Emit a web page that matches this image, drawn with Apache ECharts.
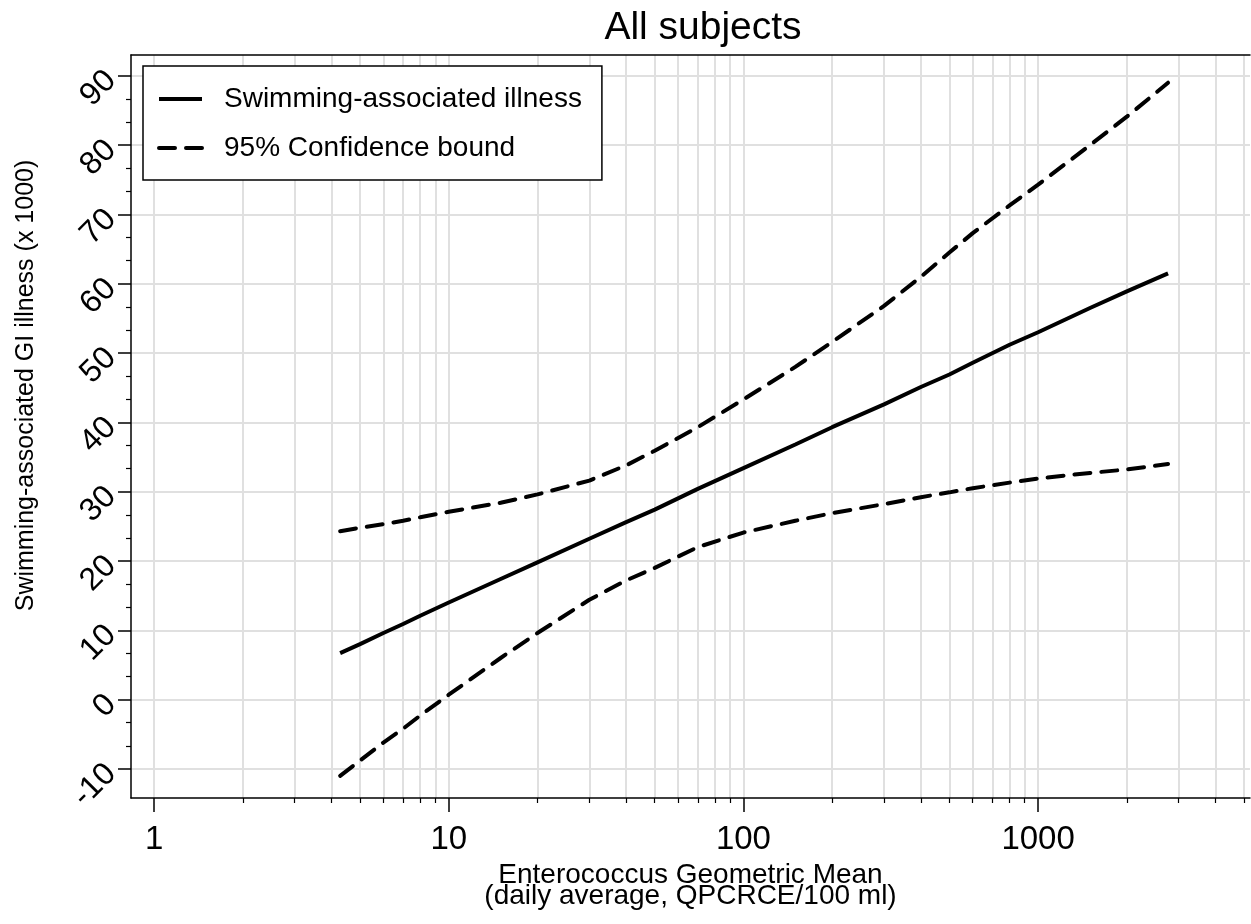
<!DOCTYPE html>
<html>
<head>
<meta charset="utf-8">
<script src="https://cdn.jsdelivr.net/npm/echarts@6/dist/echarts.min.js"></script>
<style>
  html, body { margin: 0; padding: 0; background: #fff; }
  #main { width: 1251px; height: 924px; }
</style>
</head>
<body>
<div id="main"></div>
<script>
// enterococcus geometric mean (log axis)
const xValues = [4.28, 5, 6, 7, 8, 10, 15, 20, 30, 40, 50, 70, 100, 150, 200, 300, 400, 500, 600, 800, 1000, 1500, 2000, 2760];
// swimming-associated GI illness (x 1000)
const illness = [6.7, 8.0, 9.6, 10.9, 12.1, 14.0, 17.4, 19.8, 23.2, 25.6, 27.4, 30.4, 33.4, 36.8, 39.3, 42.6, 45.1, 46.9, 48.6, 51.2, 53.0, 56.5, 58.9, 61.5];
const upperBound = [24.3, 24.8, 25.3, 25.8, 26.3, 27.1, 28.4, 29.6, 31.6, 33.8, 35.9, 39.3, 43.3, 48.0, 51.6, 56.8, 61.0, 64.5, 67.3, 71.3, 74.3, 80.0, 84.1, 89.0];
const lowerBound = [-11.0, -8.8, -6.2, -4.2, -2.3, 0.7, 6.0, 9.6, 14.4, 17.2, 19.0, 22.0, 24.1, 25.8, 26.9, 28.2, 29.2, 29.9, 30.5, 31.3, 31.9, 32.7, 33.2, 34.0];

const xMajor = [1, 10, 100, 1000];
const xMinor = [2, 3, 4, 5, 6, 7, 8, 9, 20, 30, 40, 50, 60, 70, 80, 90, 200, 300, 400, 500, 600, 700, 800, 900, 2000, 3000, 4000, 5000];
const yMajor = [-10, 0, 10, 20, 30, 40, 50, 60, 70, 80, 90];
const yMinor = [-6.667, -3.333, 3.333, 6.667, 13.333, 16.667, 23.333, 26.667, 33.333, 36.667, 43.333, 46.667, 53.333, 56.667, 63.333, 66.667, 73.333, 76.667, 83.333, 86.667];

const X_MIN = 0.835, X_MAX = 5236;
const Y_MIN = -14.2, Y_MAX = 93;

const FONT = '"Liberation Sans", Arial, sans-serif';
const GRID_COLOR = '#e0e0e0';
const LINE_W = 4;
const DASH = [16, 11];

function pairs(ys) {
  return xValues.map((x, i) => [x, ys[i]]);
}

const chart = echarts.init(document.getElementById('main'));

chart.setOption({
  animation: false,
  backgroundColor: '#fff',
  textStyle: { fontFamily: FONT, color: '#000' },
  title: {
    text: 'All subjects',
    left: 698,
    top: 4,
    textAlign: 'center',
    textStyle: { fontFamily: FONT, fontSize: 39, fontWeight: 'normal', color: '#000' }
  },
  legend: {
    orient: 'vertical',
    left: 143,
    top: 66,
    backgroundColor: '#fff',
    borderColor: '#000',
    borderWidth: 1.5,
    padding: [18, 20, 17, 14],
    itemWidth: 43,
    itemHeight: 14,
    itemGap: 19,
    selectedMode: false,
    itemStyle: { opacity: 0 },
    textStyle: { fontFamily: FONT, fontSize: 28, color: '#000', lineHeight: 30, padding: [0, 0, 0, 17] },
    data: [
      { name: 'Swimming-associated illness', lineStyle: { color: '#000', width: LINE_W, type: 'solid' } },
      { name: '95% Confidence bound', lineStyle: { color: '#000', width: LINE_W, type: DASH, cap: 'round' } }
    ]
  },
  grid: { left: 131, top: 55, right: 1, bottom: 126, containLabel: false },
  xAxis: [
    {
      type: 'log',
      logBase: 10,
      min: X_MIN,
      max: X_MAX,
      position: 'bottom',
      name: 'Enterococcus Geometric Mean\n(daily average, QPCRCE/100 ml)',
      nameLocation: 'middle',
      nameGap: 61,
      nameTextStyle: { fontFamily: FONT, fontSize: 28, lineHeight: 21, color: '#000', align: 'center' },
      axisLine: { show: true, onZero: false, lineStyle: { color: '#000', width: 1.5 } },
      axisTick: { show: true, inside: false, length: 14, customValues: xMajor, lineStyle: { color: '#000', width: 1.5 } },
      axisLabel: { customValues: xMajor, fontFamily: FONT, fontSize: 33, color: '#000', margin: 25, formatter: v => String(Math.round(v)) },
      splitLine: { show: true, lineStyle: { color: GRID_COLOR, width: 2 } }
    },
    {
      type: 'log',
      logBase: 10,
      min: X_MIN,
      max: X_MAX,
      position: 'bottom',
      axisLine: { show: false, onZero: false },
      axisTick: { show: true, length: 5, customValues: xMinor, lineStyle: { color: '#000', width: 1.2 } },
      axisLabel: { show: false },
      splitLine: { show: true, lineStyle: { color: GRID_COLOR, width: 2 } }
    },
    {
      type: 'log',
      logBase: 10,
      min: X_MIN,
      max: X_MAX,
      position: 'top',
      axisLine: { show: true, onZero: false, lineStyle: { color: '#000', width: 1.5 } },
      axisTick: { show: false },
      axisLabel: { show: false },
      splitLine: { show: false }
    }
  ],
  yAxis: [
    {
      type: 'value',
      min: Y_MIN,
      max: Y_MAX,
      position: 'left',
      name: 'Swimming-associated GI illness (x 1000)',
      nameLocation: 'middle',
      nameRotate: 90,
      nameGap: 92,
      nameTextStyle: { fontFamily: FONT, fontSize: 25, color: '#000', padding: [0, 0, 0, 82] },
      axisLine: { show: true, onZero: false, lineStyle: { color: '#000', width: 1.5 } },
      axisTick: { show: true, length: 13, customValues: yMajor, lineStyle: { color: '#000', width: 1.5 } },
      axisLabel: { customValues: yMajor, rotate: 45, fontFamily: FONT, fontSize: 32, color: '#000', margin: 20, padding: [0, 0, 14, 0] },
      splitLine: { show: true, lineStyle: { color: GRID_COLOR, width: 2 } }
    },
    {
      type: 'value',
      min: Y_MIN,
      max: Y_MAX,
      position: 'left',
      axisLine: { show: false, onZero: false },
      axisTick: { show: true, length: 5, customValues: yMinor, lineStyle: { color: '#000', width: 1.2 } },
      axisLabel: { show: false },
      splitLine: { show: false }
    }
  ],
  series: [
    {
      name: 'Swimming-associated illness',
      type: 'line',
      data: pairs(illness),
      showSymbol: false,
      symbol: 'none',
      lineStyle: { color: '#000', width: LINE_W, type: 'solid' },
      itemStyle: { color: '#000' }
    },
    {
      name: '95% Confidence bound',
      type: 'line',
      data: pairs(upperBound),
      showSymbol: false,
      symbol: 'none',
      lineStyle: { color: '#000', width: LINE_W, type: DASH, cap: 'round' },
      itemStyle: { color: '#000' }
    },
    {
      name: '95% Confidence bound',
      type: 'line',
      data: pairs(lowerBound),
      showSymbol: false,
      symbol: 'none',
      lineStyle: { color: '#000', width: LINE_W, type: DASH, cap: 'round' },
      itemStyle: { color: '#000' }
    }
  ]
});
</script>
</body>
</html>
